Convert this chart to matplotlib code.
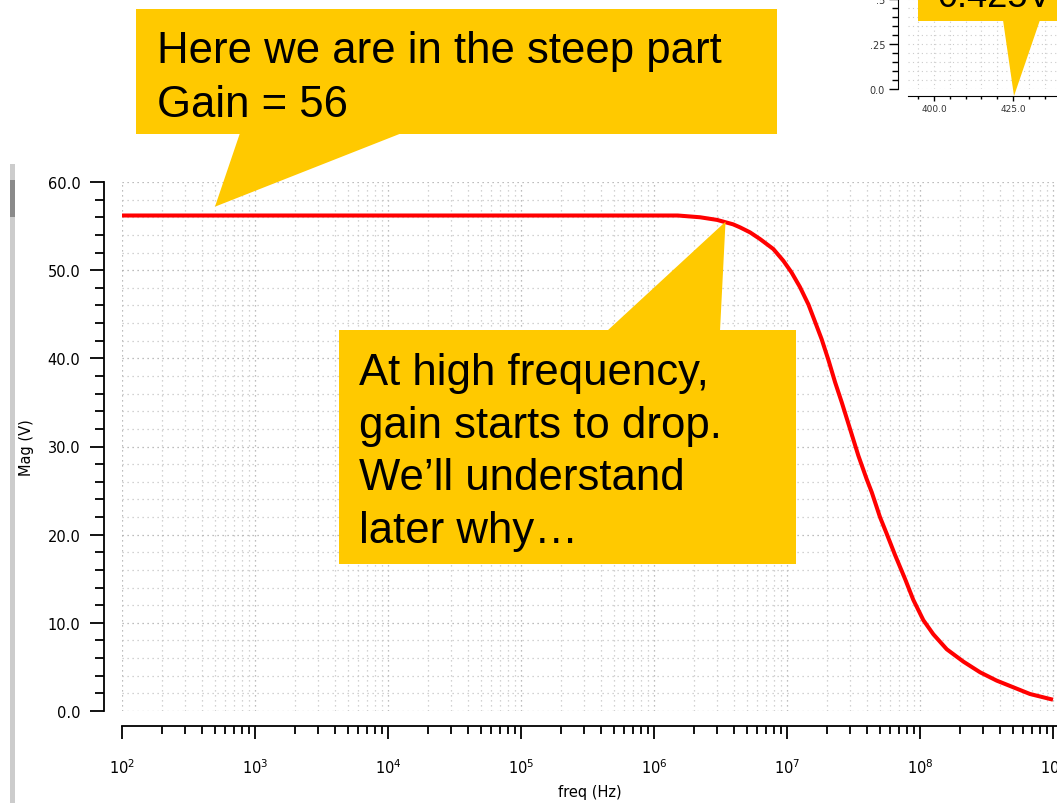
import numpy as np
import matplotlib
matplotlib.use("Agg")
import matplotlib.pyplot as plt
from matplotlib.ticker import LogLocator, MultipleLocator, FormatStrFormatter, NullFormatter, FixedFormatter, FixedLocator
from matplotlib.patches import Polygon, Rectangle

# AC sweep of the amplifier gain
freq = [1e2, 1e3, 1e4, 1e5, 1e6, 1.51e6, 2.22e6, 2.98e6, 3.93e6, 4.43e6, 5.27e6,
        6.27e6, 7.89e6, 9.38e6, 1.08e7, 1.25e7, 1.45e7, 1.62e7, 1.82e7, 2.05e7,
        2.30e7, 2.58e7, 2.98e7, 3.44e7, 3.97e7, 4.34e7, 5.00e7, 5.62e7, 6.49e7,
        7.71e7, 8.91e7, 1.06e8, 1.26e8, 1.59e8, 2.12e8, 2.83e8, 3.78e8, 5.03e8,
        6.71e8, 1.0e9]
mag = [56.2, 56.2, 56.2, 56.2, 56.2, 56.2, 56.0, 55.7, 55.2, 54.86, 54.29,
       53.53, 52.40, 51.07, 49.76, 48.1, 46.1, 44.2, 42.19, 39.8,
       37.28, 35.01, 31.98, 28.96, 26.31, 24.8, 22.0, 20.1, 17.7,
       15.0, 12.6, 10.3, 8.7, 7.0, 5.6, 4.39, 3.44, 2.69,
       1.93, 1.28]

# transient snippet axis (top right corner)
snip_yticks = [0.0, 0.25, 0.5]
snip_ylabels = ["0.0", ".25", ".5"]
snip_xticks = [400.0, 425.0]

note_top = ["Here we are in the steep part", "Gain = 56"]
note_mid = ["At high frequency,", "gain starts to drop.", "We\u2019ll understand", "later why\u2026"]
note_snip = "0.425V"

W, H = 1057, 804
YELLOW = "#FFC900"
tick_font = {"family": "DejaVu Sans", "size": 10.5}

fig = plt.figure(figsize=(W / 100, H / 100), dpi=100)
fig.patch.set_facecolor("white")


def px_rect(x0, y0, x1, y1):
    return [x0 / W, 1 - y1 / H, (x1 - x0) / W, (y1 - y0) / H]


# main bode magnitude plot
ax = fig.add_axes(px_rect(122, 183, W, 712), zorder=1)
ax.semilogx(freq, mag, color="#ff0000", lw=2.9, solid_capstyle="butt", zorder=3)
ax.set_xlim(1e2, 10 ** (2 + 935 / 133))
ax.set_ylim(0, 60)

ax.yaxis.set_major_locator(MultipleLocator(10))
ax.yaxis.set_minor_locator(MultipleLocator(2))
ax.yaxis.set_major_formatter(FormatStrFormatter("%.1f"))
ax.xaxis.set_major_locator(LogLocator(base=10, numticks=20))
ax.xaxis.set_minor_locator(LogLocator(base=10, subs=np.arange(2, 10), numticks=20))
ax.xaxis.set_minor_formatter(NullFormatter())

for s in ["top", "right"]:
    ax.spines[s].set_visible(False)
ax.spines["left"].set_position(("outward", 13))
ax.spines["bottom"].set_position(("outward", 11))
for s in ["left", "bottom"]:
    ax.spines[s].set_linewidth(1.3)

ax.tick_params(axis="y", which="major", length=10, width=1.3, pad=7)
ax.tick_params(axis="y", which="minor", length=6.5, width=1.3)
ax.tick_params(axis="x", which="major", length=9.5, width=1.3, pad=13)
ax.tick_params(axis="x", which="minor", length=6, width=1.3)
for lab in ax.get_xticklabels() + ax.get_yticklabels():
    lab.set_fontfamily(tick_font["family"])
    lab.set_fontsize(tick_font["size"])

ax.grid(which="major", color="#a8a8a8", linestyle=(0, (1, 3)), lw=0.9)
ax.grid(which="minor", color="#c4c4c4", linestyle=(0, (1, 3)), lw=0.9)
ax.set_xlabel("freq (Hz)", fontdict=tick_font)
ax.set_ylabel("Mag (V)", fontdict=tick_font)
ax.xaxis.set_label_coords(0.5, -0.138)
ax.yaxis.set_label_coords(-0.094, 0.5)

# small transient view in the corner
ins = fig.add_axes(px_rect(908, 0, W, 90), zorder=2)
ins.set_xlim(391.8, 438.9)
ins.set_ylim(0, 0.5)
ins.yaxis.set_major_locator(FixedLocator(snip_yticks))
ins.yaxis.set_major_formatter(FixedFormatter(snip_ylabels))
ins.yaxis.set_minor_locator(MultipleLocator(0.05))
ins.xaxis.set_major_locator(FixedLocator(snip_xticks))
ins.xaxis.set_major_formatter(FormatStrFormatter("%.1f"))
ins.xaxis.set_minor_locator(MultipleLocator(5))
for s in ["top", "right"]:
    ins.spines[s].set_visible(False)
ins.spines["left"].set_position(("outward", 7))
ins.spines["bottom"].set_position(("outward", 5))
ins.tick_params(axis="y", which="major", length=6.5, width=1, pad=3, labelsize=7, labelcolor="#333333")
ins.tick_params(axis="y", which="minor", length=4, width=1)
ins.tick_params(axis="x", which="major", length=3.5, width=1, pad=2, labelsize=6.5, labelcolor="#333333")
ins.tick_params(axis="x", which="minor", length=2, width=1)
ins.grid(which="both", color="#cccccc", linestyle=(0, (1, 3)), lw=0.8)

# overlay in pixel coordinates for the callouts
ov = fig.add_axes([0, 0, 1, 1], zorder=5)
ov.set_xlim(0, W)
ov.set_ylim(H, 0)
ov.axis("off")
ov.patch.set_alpha(0)

# window scrollbar on the left edge
ov.add_patch(Rectangle((10, 165), 5, H - 165, color="#cccccc", lw=0))
ov.add_patch(Rectangle((10, 181), 5, 37, color="#8a8a8a", lw=0))


def callout(box, base, tip):
    x0, y0, x1, y1 = box
    ov.add_patch(Rectangle((x0, y0), x1 - x0, y1 - y0, color=YELLOW, lw=0))
    ov.add_patch(Polygon([base[0], base[1], tip], closed=True, color=YELLOW, lw=0))


def to_px(x, y):
    dx, dy = ax.transData.transform((x, y))
    return dx, H - dy


callout((136, 10, 777, 135), ((240, 134), (402, 134)), to_px(500, 57.2))
for i, line in enumerate(note_top):
    ov.text(157, 63 + 54 * i, line, fontsize=31.5, family="Liberation Sans",
            va="baseline", ha="left")

callout((339, 331, 796, 565), ((607, 332), (720, 332)), to_px(3.45e6, 55.5))
for i, line in enumerate(note_mid):
    ov.text(359, 385 + 52.7 * i, line, fontsize=31.5, family="Liberation Sans",
            va="baseline", ha="left")

callout((918, -10, W + 5, 22), ((1003, 21), (1040, 21)), (1014, 97))
ov.text(938, 7, note_snip, fontsize=26, family="Liberation Sans", va="baseline", ha="left")

fig.savefig("out.png", dpi=100, facecolor="white")
